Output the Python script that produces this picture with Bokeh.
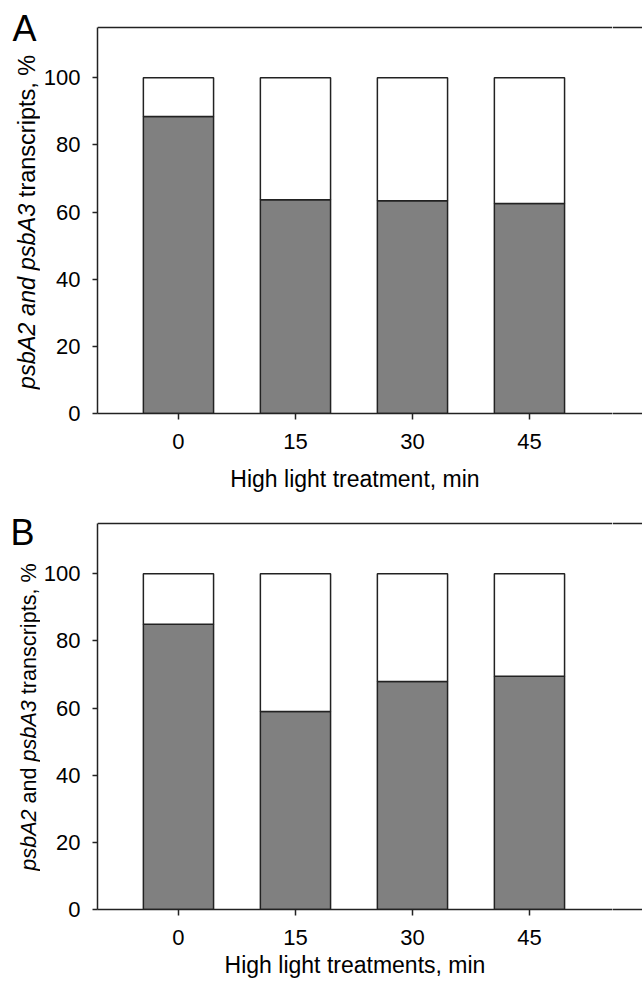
import math
from bokeh.plotting import figure
from bokeh.models import Range1d, FixedTicker, LinearAxis, Span
from bokeh.layouts import column, row
from bokeh.core.properties import value
from bokeh.embed import file_html
from bokeh.resources import INLINE

# ---------------- data ----------------
times = ["0", "15", "30", "45"]
dark_A = [88.5, 63.7, 63.4, 62.6]      # panel A, lower (grey) share, %
dark_B = [85.0, 59.0, 67.9, 69.5]      # panel B, lower (grey) share, %
total = [100, 100, 100, 100]
y_ticks = [0, 20, 40, 60, 80, 100]
xlab_A = "High light treatment, min"
xlab_B = "High light treatments, min"
ylab_A = [("psbA2", "italic"), ("and", "italic"), ("psbA3", "italic"),
          ("transcripts,", "normal"), ("%", "normal")]
ylab_B = [("psbA2", "italic"), ("and", "normal"), ("psbA3", "italic"),
          ("transcripts,", "normal"), ("%", "normal")]

FONT = "Liberation Sans"
INK = "#222222"
GREY = "#808080"
Y_MAX = 115          # top border of the plotting area
X_START = -0.692
PX_PER_CAT = 117.0
PLOT_H = 386         # pixel height of 0..Y_MAX
TOP_PAD = 27         # pixels above the top border line
LEFT_W = 40          # strip holding the rotated label and panel letter
MAIN_W = 572
RIGHT_W = 30
MID = 0.3465         # em offset of the em-box centre above the baseline
PPU = PLOT_H / Y_MAX
Y_TOP = Y_MAX + TOP_PAD / PPU

# Arial / Liberation Sans advance widths (per 1000 em)
ADV = {'p': 556, 's': 500, 'b': 556, 'A': 667, '2': 556, '3': 556, ' ': 278,
       'a': 556, 'n': 556, 'd': 556, 't': 278, 'r': 333, 'c': 500, 'i': 222,
       ',': 278, '%': 889}


def text_w(s, size):
    return sum(ADV.get(ch, 556) for ch in s) / 1000.0 * size


def top_line():
    return Span(location=Y_MAX, dimension="width", line_color=INK, line_width=1.5)


def panel(letter, dark, xlab, ylab_words, height, b_bottom, b_left,
          ylab_size, ylab_base_x, ylab_center, letter_x, letter_base,
          xlab_standoff):
    yr = Range1d(0, Y_TOP)
    frame_w = MAIN_W - b_left
    x_end = X_START + frame_w / PX_PER_CAT
    frame_bottom_px = TOP_PAD + PLOT_H      # canvas y of value 0

    def to_y(px):                            # canvas pixel row -> data value
        return (frame_bottom_px - px) / PPU

    # ---- main plot ----
    p = figure(width=MAIN_W, height=height, output_backend="svg",
               toolbar_location=None, title=None,
               x_range=Range1d(X_START, x_end), y_range=yr,
               min_border_top=0, min_border_bottom=b_bottom,
               min_border_left=b_left, min_border_right=0)
    p.outline_line_color = None
    p.grid.grid_line_color = None

    xs = list(range(len(times)))
    p.vbar(x=xs, width=0.6, bottom=0, top=dark, fill_color=GREY,
           line_color=INK, line_width=1.5)
    p.vbar(x=xs, width=0.6, bottom=dark, top=total, fill_color="white",
           line_color=INK, line_width=1.5)
    p.add_layout(top_line())

    xa = p.xaxis[0]
    xa.ticker = FixedTicker(ticks=xs)
    xa.major_label_overrides = {i: t for i, t in zip(xs, times)}
    xa.axis_label = xlab
    xa.axis_label_text_font = FONT
    xa.axis_label_text_font_style = "normal"
    xa.axis_label_text_font_size = "23px"
    xa.axis_label_text_color = "black"
    xa.axis_label_standoff = xlab_standoff
    xa.major_label_text_font = FONT
    xa.major_label_text_font_size = "22px"
    xa.major_label_text_color = "black"
    xa.major_label_standoff = 14
    xa.major_tick_out = 6
    xa.major_tick_in = 0
    xa.minor_tick_line_color = None
    xa.axis_line_color = INK
    xa.axis_line_width = 1.5
    xa.major_tick_line_color = INK
    xa.major_tick_line_width = 1.5

    ya = p.yaxis[0]
    ya.bounds = (0, Y_MAX)
    ya.ticker = FixedTicker(ticks=y_ticks)
    ya.major_label_text_font = FONT
    ya.major_label_text_font_size = "22px"
    ya.major_label_text_color = "black"
    ya.major_label_standoff = 12
    ya.major_tick_out = 5
    ya.major_tick_in = 0
    ya.minor_tick_line_color = None
    ya.axis_line_color = INK
    ya.axis_line_width = 1.5
    ya.major_tick_line_color = INK
    ya.major_tick_line_width = 1.5

    # ---- right strip: continuation of the top and bottom border lines ----
    r = figure(width=RIGHT_W, height=height, output_backend="svg",
               toolbar_location=None, title=None,
               x_range=Range1d(0, 1), y_range=yr,
               min_border_top=0, min_border_bottom=b_bottom,
               min_border_left=0, min_border_right=0,
               x_axis_location="below", y_axis_location=None)
    r.outline_line_color = None
    r.grid.grid_line_color = None
    r.add_layout(top_line())
    rx = r.xaxis[0]
    rx.ticker = FixedTicker(ticks=[])
    rx.axis_line_color = INK
    rx.axis_line_width = 1.5
    rx.major_tick_line_color = None
    rx.minor_tick_line_color = None
    rx.major_label_text_font_size = "0px"

    # ---- left strip: rotated mixed-style y label and panel letter ----
    l = figure(width=LEFT_W, height=height, output_backend="svg",
               toolbar_location=None, title=None,
               x_range=Range1d(0, LEFT_W), y_range=yr,
               min_border_top=0, min_border_bottom=b_bottom,
               min_border_left=0, min_border_right=0,
               x_axis_location=None, y_axis_location=None)
    l.outline_line_color = None
    l.grid.grid_line_color = None

    words = [(w, s, text_w(w, ylab_size)) for w, s in ylab_words]
    sp = text_w(" ", ylab_size)
    total_w = sum(w for _, _, w in words) + sp * (len(words) - 1)
    start_px = ylab_center + total_w / 2        # lowest point of the label
    anchor_x = ylab_base_x - MID * ylab_size
    pos = 0.0
    for w, s, wpx in words:
        l.text(x=[anchor_x], y=[to_y(start_px - pos)], text=[w],
               angle=math.pi / 2, text_align="left", text_baseline="middle",
               text_font=value(FONT), text_font_style=s,
               text_font_size=value(f"{ylab_size}px"), text_color="black")
        pos += wpx + sp

    l.text(x=[letter_x], y=[to_y(letter_base - MID * 36)], text=[letter],
           text_align="left", text_baseline="middle",
           text_font=value(FONT), text_font_size=value("36px"),
           text_color="black")

    return row(l, p, r, spacing=0)


rowA = panel("A", dark_A, xlab_A, ylab_A, height=496, b_bottom=83, b_left=57,
             ylab_size=23.5, ylab_base_x=34.5, ylab_center=221.5,
             letter_x=12, letter_base=40, xlab_standoff=14)
rowB = panel("B", dark_B, xlab_B, ylab_B, height=485, b_bottom=72, b_left=57,
             ylab_size=21.6, ylab_base_x=35, ylab_center=220.5,
             letter_x=10, letter_base=48, xlab_standoff=4)

layout = column(rowA, rowB, spacing=0)
open("out.html", "w").write(file_html(layout, INLINE))
